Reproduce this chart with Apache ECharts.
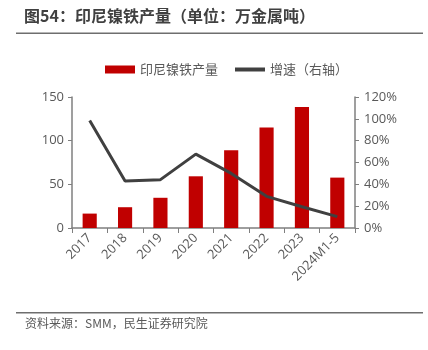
<!DOCTYPE html>
<html><head><meta charset="utf-8">
<script src="https://cdn.jsdelivr.net/npm/echarts@6/dist/echarts.min.js"></script>
<style>html,body{margin:0;padding:0;background:#fff}#c{width:428px;height:350px}</style>
</head><body><div id="c"></div>
<script>
const categories = ['2017','2018','2019','2020','2021','2022','2023','2024M1-5'];
const output = [16.5, 23.8, 34.6, 59.2, 88.9, 115, 138.6, 57.7];
const growth = [98.4, 43, 44.3, 67.7, 50, 29, 19.5, 10.4];
const leftTicks = [0, 50, 100, 150];
const rightTicks = [0, 20, 40, 60, 80, 100, 120];

const chart = echarts.init(document.getElementById('c'), null, {renderer:'canvas'});
const lab = {color:'#595959', fontSize:13, fontFamily:'"Open Sans","Noto Sans CJK SC",sans-serif'};
chart.setOption({
  animation:false,
  graphic:[
    {type:'text', left:24, top:8, style:{text:'图54：印尼镍铁产量（单位：万金属吨）', fill:'#404040', font:'bold 16px "Noto Sans CJK SC",sans-serif'}},
    {type:'rect', shape:{x:16, y:32.5, width:407, height:1.5}, style:{fill:'#6e6e6e'}},
    {type:'rect', shape:{x:16, y:312, width:407, height:1.5}, style:{fill:'#6e6e6e'}},
    {type:'text', left:25, top:317, style:{text:'资料来源：SMM，民生证券研究院', fill:'#595959', font:'12px "Noto Sans CJK SC",sans-serif'}}
  ],
  legend:{
    top:58, left:100, itemGap:17, itemWidth:30, itemHeight:8,
    textStyle:{color:'#595959', fontSize:13, fontFamily:'"Noto Sans CJK SC",sans-serif'},
    data:[{name:'印尼镍铁产量', icon:'rect'}, {name:'增速（右轴）', icon:'path://M0,0 L30,0 L30,4 L0,4 Z'}]
  },
  grid:{left:72, right:73, top:97, bottom:122},
  xAxis:{
    type:'category', data:categories,
    axisLine:{lineStyle:{color:'#7f7f7f', width:1.5}},
    axisTick:{show:true, alignWithLabel:false, length:5, lineStyle:{color:'#7f7f7f'}},
    axisLabel:Object.assign({rotate:45, interval:0, margin:8}, lab)
  },
  yAxis:[
    {type:'value', min:0, max:150, interval:50, splitLine:{show:false},
     axisLine:{show:true, lineStyle:{color:'#7f7f7f', width:1.5}},
     axisTick:{show:true, length:4, lineStyle:{color:'#7f7f7f'}},
     axisLabel:Object.assign({margin:8}, lab)},
    {type:'value', min:0, max:120, interval:20, splitLine:{show:false}, position:'right',
     axisLine:{show:true, lineStyle:{color:'#7f7f7f', width:1.5}},
     axisTick:{show:true, length:4, lineStyle:{color:'#7f7f7f'}},
     axisLabel:Object.assign({margin:9, formatter:'{value}%'}, lab)}
  ],
  series:[
    {name:'印尼镍铁产量', type:'bar', data:output, barWidth:'40%', itemStyle:{color:'#C00000'}},
    {name:'增速（右轴）', type:'line', yAxisIndex:1, data:growth, symbol:'none',
     lineStyle:{color:'#404040', width:3}, itemStyle:{color:'#404040'}}
  ]
});
</script></body></html>
